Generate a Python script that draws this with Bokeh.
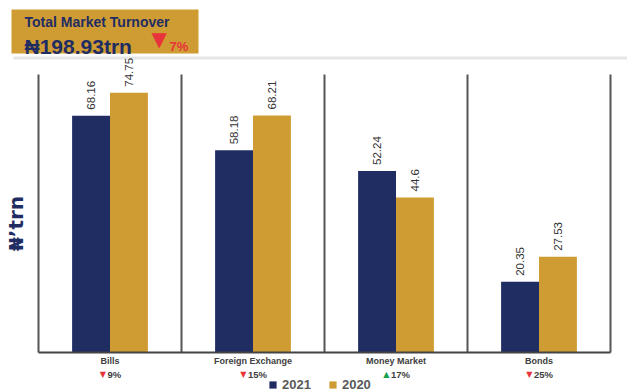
import math
import numpy as np
from bokeh.plotting import figure
from bokeh.models import (Range1d, Label, BoxAnnotation, ColumnDataSource,
                          Legend, LegendItem)
from bokeh.core.properties import value
from bokeh.embed import file_html
from bokeh.resources import INLINE

# ---------------- data ----------------
categories = ["Bills", "Foreign Exchange", "Money Market", "Bonds"]
values_2021 = [68.16, 58.18, 52.24, 20.35]
values_2020 = [74.75, 68.21, 44.6, 27.53]
change_pct = ["9%", "15%", "17%", "25%"]
change_dir = ["down", "down", "up", "down"]
series_names = ["2021", "2020"]
title_text = "Total Market Turnover"
total_label = "\u20a6198.93trn"
total_change = "7%"
total_dir = "down"
y_axis_label = "\u20a6\u2019trn"
y_max = 80

# ---------------- style ----------------
NAVY = "#1f2d63"
GOLD = "#cf9c33"
RED = "#e8333b"
GREEN = "#1aa14a"
GREY = "#404040"
FONT = "Liberation Sans"

W, H = 627, 392
LEFT, RIGHT, TOP, BOTTOM = 38, 17, 74, 40      # plot-area margins (px)
n = len(categories)
xpx = (W - LEFT - RIGHT) / n                     # px per category
ypx = (H - TOP - BOTTOM) / y_max                 # px per unit

x_range = Range1d(-LEFT / xpx, n + RIGHT / xpx)
y_range = Range1d(-BOTTOM / ypx, y_max + TOP / ypx)


def sy(cy):
    return H - cy


centers = np.arange(n) + 0.5
bw = 0.265

src = ColumnDataSource(dict(
    x1=centers - bw / 2,
    x2=centers + bw / 2,
    v2021=values_2021,
    v2020=values_2020,
    t2021=[f"{v:g}" for v in values_2021],
    t2020=[f"{v:g}" for v in values_2020],
))

p = figure(width=W, height=H, x_range=x_range, y_range=y_range,
           toolbar_location=None, output_backend="svg",
           min_border=0, outline_line_color=None)
p.xaxis.visible = False
p.yaxis.visible = False
p.grid.visible = False

# header box and grey rule
p.add_layout(BoxAnnotation(left=11, right=198, top=9, bottom=53,
                           left_units="canvas", right_units="canvas",
                           top_units="canvas", bottom_units="canvas",
                           fill_color=GOLD, fill_alpha=1, line_color=None,
                           level="underlay"))
p.add_layout(BoxAnnotation(left=13, right=627, top=56, bottom=59,
                           left_units="canvas", right_units="canvas",
                           top_units="canvas", bottom_units="canvas",
                           fill_color="#e6e6e6", fill_alpha=1, line_color=None,
                           level="underlay"))

r1 = p.vbar(x="x1", top="v2021", width=bw, source=src,
            fill_color=NAVY, line_color=None)
r2 = p.vbar(x="x2", top="v2020", width=bw, source=src,
            fill_color=GOLD, line_color=None)

for col in ("2021", "2020"):
    p.text(x="x1" if col == "2021" else "x2", y="v" + col, text="t" + col,
           source=src, angle=math.pi / 2, text_align="left",
           text_baseline="middle", y_offset=-6, text_font=value(FONT),
           text_font_size="11.5px", text_color="#333333")

# divider lines and base line
bounds = np.arange(n + 1)
p.segment(x0=bounds, y0=np.zeros(n + 1), x1=bounds, y1=np.full(n + 1, y_max),
          line_color="#555555", line_width=2)
p.segment(x0=[0], y0=[0], x1=[n], y1=[0], line_color="#444444", line_width=2)

# category labels and change labels
for i, (c, pct, d) in enumerate(zip(categories, change_pct, change_dir)):
    p.add_layout(Label(x=centers[i], y=sy(360), y_units="screen", text=c,
                       text_align="center", text_baseline="middle",
                       text_font=FONT, text_font_size="9px",
                       text_font_style="bold", text_color=GREY))
    tw = 5 * (len(pct) - 1) + 8
    total = 8 + tw
    start = -total / 2
    p.add_layout(Label(x=centers[i], y=sy(373.5), y_units="screen",
                       x_offset=start + 6.5,
                       text="\u25bc" if d == "down" else "\u25b2",
                       text_align="right", text_baseline="middle",
                       text_font="DejaVu Sans", text_font_size="8px",
                       text_color=RED if d == "down" else GREEN))
    p.add_layout(Label(x=centers[i], y=sy(374), y_units="screen",
                       x_offset=start + 8,
                       text=pct, text_align="left", text_baseline="middle",
                       text_font=FONT, text_font_size="9.5px",
                       text_font_style="bold", text_color=GREY))

# y axis label
p.add_layout(Label(x=15, y=sy(223), x_units="screen", y_units="screen",
                   text=y_axis_label, angle=math.pi / 2, text_align="center",
                   text_baseline="middle", text_font="DejaVu Sans",
                   text_font_size="20px", text_font_style="bold",
                   text_color=NAVY))

# header texts
p.add_layout(Label(x=24, y=sy(21), x_units="screen", y_units="screen",
                   text=title_text, text_baseline="middle",
                   text_font=FONT, text_font_size="14px",
                   text_font_style="bold", text_color=NAVY))
p.add_layout(Label(x=24, y=sy(46), x_units="screen", y_units="screen",
                   text=total_label, text_baseline="alphabetic",
                   text_font=FONT, text_font_size="21px",
                   text_font_style="bold", text_color=NAVY))
p.add_layout(Label(x=151, y=sy(38), x_units="screen", y_units="screen",
                   text="\u25bc" if total_dir == "down" else "\u25b2",
                   text_baseline="middle",
                   text_font="DejaVu Sans", text_font_size="20px",
                   text_color=RED))
p.add_layout(Label(x=169, y=sy(46), x_units="screen", y_units="screen",
                   text=total_change, text_baseline="alphabetic",
                   text_font=FONT, text_font_size="13px",
                   text_font_style="bold", text_color=RED))

legend = Legend(items=[LegendItem(label=series_names[0], renderers=[r1]),
                       LegendItem(label=series_names[1], renderers=[r2])],
                orientation="horizontal", location=(268, 0),
                glyph_width=9, glyph_height=9, label_height=9,
                label_standoff=5, spacing=17, padding=0, margin=0,
                border_line_color=None, background_fill_alpha=0,
                label_text_font=FONT, label_text_font_size="13px",
                label_text_font_style="bold", label_text_color="#595959")
p.add_layout(legend)

open("out.html", "w").write(file_html(p, INLINE))
